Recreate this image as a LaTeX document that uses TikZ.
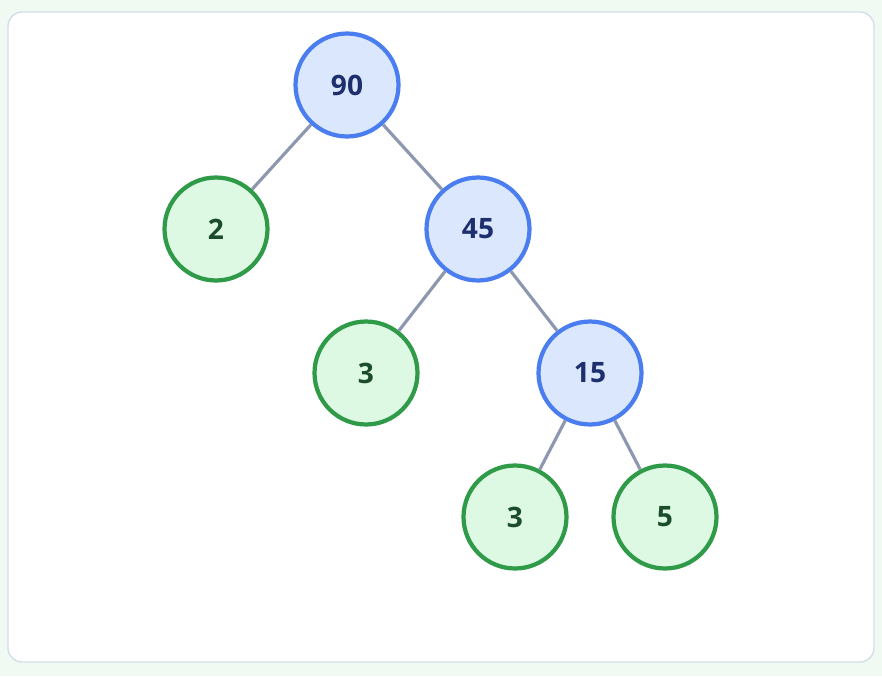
\documentclass[tikz,border=0pt]{standalone}
\usepackage{fontspec}
\setmainfont{Open Sans}
\usetikzlibrary{positioning}
\definecolor{pageBg}{HTML}{F0FAF3}
\definecolor{cardEdge}{HTML}{D5DEE6}
\definecolor{innerFill}{HTML}{DBE7FD}
\definecolor{innerEdge}{HTML}{4A7EF0}
\definecolor{innerText}{HTML}{1E2F6E}
\definecolor{leafFill}{HTML}{DDF8E3}
\definecolor{leafEdge}{HTML}{2F9A48}
\definecolor{leafText}{HTML}{1B4D2A}
\definecolor{edgeGray}{HTML}{8D98B0}
\tikzstyle{inner} = [circle, minimum size=2.06cm, inner sep=0pt, line width=2.4pt, draw=innerEdge, fill=innerFill, text=innerText, font=\fontsize{16}{18}\selectfont\bfseries]
\tikzstyle{leaf} = [circle, minimum size=2.06cm, inner sep=0pt, line width=2.4pt, draw=leafEdge, fill=leafFill, text=leafText, font=\fontsize{16}{18}\selectfont\bfseries]
\tikzstyle{branch} = [line width=1.8pt, draw=edgeGray]
\begin{document}
\begin{tikzpicture}[x=0.02cm, y=-0.02cm]

        % Background
        \fill [pageBg] (0,0) rectangle (882,676);
        \draw [cardEdge, fill=white, line width=0.8pt, rounded corners=8] (8,12) rectangle (874,662);

        % Nodes
        \node (root) [inner] at (347,85) {90};
        \node (leafTwo) [leaf] at (216,229) {2};
        \node (midA) [inner] at (478,229) {45};
        \node (leafThreeA) [leaf] at (366,373) {3};
        \node (midB) [inner] at (590,373) {15};
        \node (leafThreeB) [leaf] at (515,517) {3};
        \node (leafFive) [leaf] at (665,517) {5};

        % Edges
        \draw [branch] (root) -- (leafTwo);
        \draw [branch] (root) -- (midA);
        \draw [branch] (midA) -- (leafThreeA);
        \draw [branch] (midA) -- (midB);
        \draw [branch] (midB) -- (leafThreeB);
        \draw [branch] (midB) -- (leafFive);

\end{tikzpicture}
\end{document}
